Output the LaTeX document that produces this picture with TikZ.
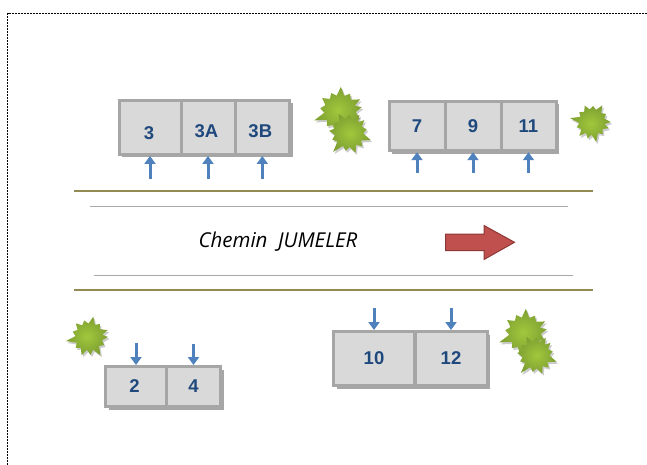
\documentclass[tikz,border=0pt]{standalone}
\usepackage{fontspec}
\setmainfont{Liberation Sans}
\newfontfamily\roadfont{Open Sans}
\usetikzlibrary{shapes.geometric,shadows,arrows.meta}
\definecolor{cellfill}{HTML}{D9D9D9}
\definecolor{celledge}{HTML}{A6A6A6}
\definecolor{numcol}{HTML}{1F497D}
\definecolor{arrcol}{HTML}{4F81BD}
\definecolor{olive}{HTML}{948A54}
\definecolor{roadgray}{HTML}{A8A8A8}
\definecolor{redfill}{HTML}{C0504D}
\definecolor{rededge}{HTML}{8C3836}
\definecolor{leafin}{HTML}{A0C83C}
\definecolor{leafout}{HTML}{7FA032}
\tikzset{
  x=1pt,y=-1pt,
  cell/.style={draw=celledge,fill=cellfill,line width=3pt,inner sep=0pt,
    text=numcol,font=\fontsize{18.5}{20}\selectfont\bfseries,
    general shadow={shadow xshift=3pt,shadow yshift=-3pt,fill=black,opacity=.35}},
  door/.style={draw=arrcol,line width=3pt,-{Triangle[length=8pt,width=11pt]}},
  leaf/.style={draw=none,inner color=leafin,outer color=leafout,
    general shadow={shadow xshift=1.5pt,shadow yshift=-2pt,fill=black,opacity=.2}},
  kerb/.style={draw=olive,line width=2pt},
  edge line/.style={draw=roadgray,line width=.8pt},
  pics/shrub/.style={code={
    \path[leaf] (0:21)
      \foreach \a/\r in {14/15,28/19,42/15,58/24,72/15,85/20,99/14.5,112/22,127/15,141/19,155/15,170/26,184/15,198/19,212/15,226/21,240/15,254/19,268/15,282/23,296/15,310/19,324/15,340/22,350/15}
        { -- (\a:\r) } -- cycle;
  }},
}
\begin{document}
\begin{tikzpicture}
\useasboundingbox (0,0) rectangle (647,465);
% page frame
\coordinate (fbl) at (7.5,465);
\coordinate (ftl) at (7.5,13.5);
\coordinate (ftr) at (647,13.5);
\draw[black,line width=.9pt,dash pattern=on 1.6pt off 1.4pt] (fbl) -- (ftl) -- (ftr);
% road
\coordinate (k1a) at (74,190.5); \coordinate (k1b) at (593,190.5);
\coordinate (k2a) at (74,290); \coordinate (k2b) at (593,290);
\coordinate (e1a) at (90,206.5); \coordinate (e1b) at (568,206.5);
\coordinate (e2a) at (94,275); \coordinate (e2b) at (573,275);
\draw[kerb] (k1a) -- (k1b);
\draw[kerb] (k2a) -- (k2b);
\draw[edge line] (e1a) -- (e1b);
\draw[edge line] (e2a) -- (e2b);
\node[font=\roadfont\itshape\fontsize{20.5}{22}\selectfont,text=black] (road) at (278,242) {Chemin\ \ JUMELER};
\draw[draw=rededge,fill=redfill,line width=1pt]
  (445.5,234) -- (484,234) -- (484,225.5) -- (514.5,242.3) -- (484,259.5) -- (484,250.5) -- (445.5,250.5) -- cycle;
% top left block
\node[cell,minimum width=62pt,minimum height=54pt] (c3) at (150,127.5) {\raisebox{-12.5pt}[0pt][0pt]{\hspace{-2pt}3}};
\node[cell,minimum width=54pt,minimum height=54pt] (c3A) at (208,127.5) {\raisebox{-10.5pt}[0pt][0pt]{\hspace{-3pt}3A}};
\node[cell,minimum width=54.5pt,minimum height=54pt] (c3B) at (262.3,127.5) {\raisebox{-10.5pt}[0pt][0pt]{\hspace{-4pt}3B}};
% top right block
\node[cell,minimum width=56pt,minimum height=49.5pt] (c7) at (417,126) {7};
\node[cell,minimum width=56pt,minimum height=49.5pt] (c9) at (473,126) {9};
\node[cell,minimum width=55pt,minimum height=49.5pt] (c11) at (528.5,126) {11};
% bottom left block
\node[cell,minimum width=61pt,minimum height=40pt] (c2) at (136,386.5) {\hspace{-3pt}2};
\node[cell,minimum width=54pt,minimum height=40pt] (c4) at (193.5,386.5) {4};
% bottom right block
\node[cell,minimum width=81pt,minimum height=54pt] (c10) at (374,358.5) {10};
\node[cell,minimum width=72pt,minimum height=54pt] (c12) at (451,358.5) {12};
% doors
\coordinate (a3) at (c3.south |- 0,179);
\coordinate (a3A) at (c3A.south |- 0,179);
\coordinate (a3B) at (c3B.south |- 0,179);
\coordinate (a7) at (c7.south |- 0,173);
\coordinate (a9) at (c9.south |- 0,173);
\coordinate (a11) at (c11.south |- 0,173);
\coordinate (a2) at (c2.north |- 0,343);
\coordinate (a4) at (c4.north |- 0,344);
\coordinate (a10) at (c10.north |- 0,308);
\coordinate (a12) at (c12.north |- 0,308);
\draw[door] (a3) -- (c3.south);
\draw[door] (a3A) -- (c3A.south);
\draw[door] (a3B) -- (c3B.south);
\draw[door] (a7) -- (c7.south);
\draw[door] (a9) -- (c9.south);
\draw[door] (a11) -- (c11.south);
\draw[door] (a2) -- (c2.north);
\draw[door] (a4) -- (c4.north);
\draw[door] (a10) -- (c10.north);
\draw[door] (a12) -- (c12.north);
% shrubs
\pic[scale=1.05,rotate=10] at (340,111) {shrub};
\pic[scale=.95,rotate=40] at (349,133) {shrub};
\pic[scale=.85,rotate=-20] at (592,122) {shrub};
\pic[scale=.9,rotate=0] at (89,337) {shrub};
\pic[scale=1.05,rotate=10] at (525,333) {shrub};
\pic[scale=.9,rotate=40] at (536,355) {shrub};
\end{tikzpicture}
\end{document}
